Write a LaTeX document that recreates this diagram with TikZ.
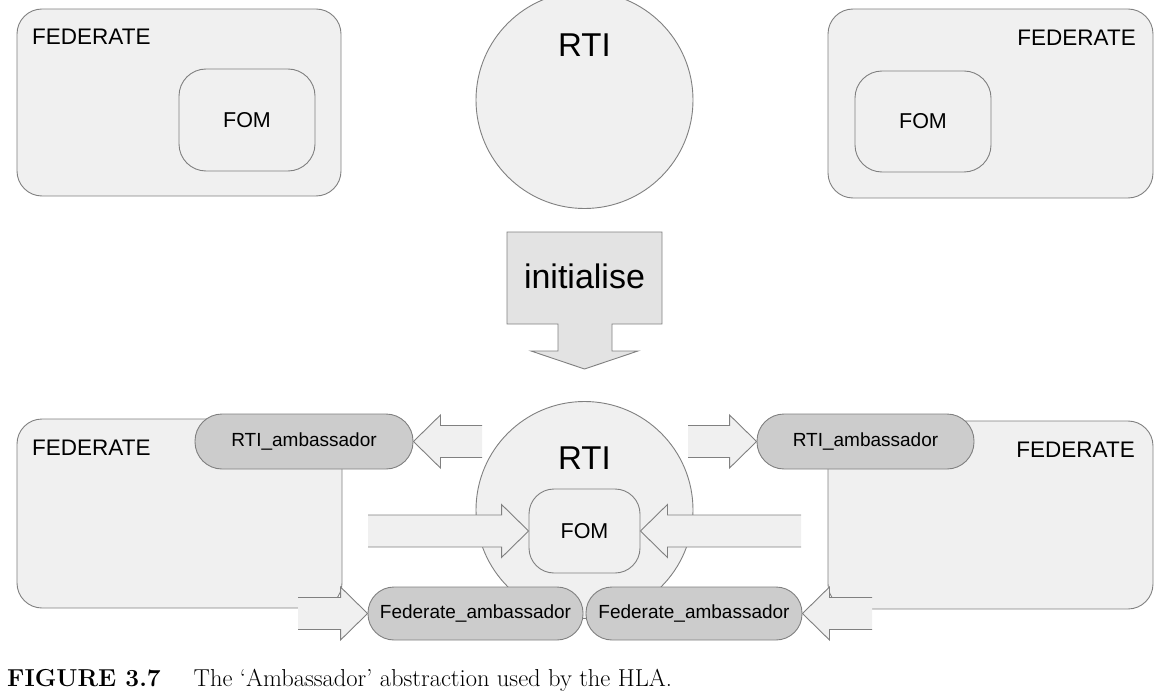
\documentclass[tikz,border=0pt]{standalone}
\usepackage{fontspec}
\setsansfont{Liberation Sans}
\usetikzlibrary{calc}
\definecolor{boxfill}{HTML}{F0F0F0}
\definecolor{pillfill}{HTML}{CCCCCC}
\definecolor{initfill}{HTML}{E3E3E3}
\definecolor{edgegray}{HTML}{808080}
\tikzset{
  edgeline/.style={draw=edgegray, line width=0.9bp},
  fedbox/.style={edgeline, fill=boxfill, rounded corners=25bp, inner sep=0pt},
  fombox/.style={edgeline, fill=boxfill, rounded corners=27bp, inner sep=0pt,
    font=\fontsize{21.5bp}{26bp}\selectfont\sffamily},
  rticircle/.style={edgeline, fill=boxfill, circle, inner sep=0pt, minimum size=217bp},
  pill/.style={edgeline, fill=pillfill, inner sep=0pt,
    font=\fontsize{19bp}{23bp}\selectfont\sffamily},
  fedtext/.style={font=\fontsize{22.5bp}{27bp}\selectfont\sffamily, inner sep=0pt},
  rtitext/.style={font=\fontsize{33bp}{40bp}\selectfont\sffamily, inner sep=0pt},
  blockarrow/.style={edgeline, fill=boxfill, line join=miter},
  initarrow/.style={edgeline, fill=initfill, line join=miter},
}
% block arrow from tail #1 to tip #2 (horizontal), open (unstroked) at the tail
\newcommand{\blockarrow}[2]{%
  \filldraw[blockarrow] let \p1=(#1), \p2=(#2), \n1={sign(\x1-\x2)} in
    (\x1,{\y2+16bp}) -- ({\x2+\n1*27bp},{\y2+16bp}) -- ({\x2+\n1*27bp},{\y2+26.5bp})
    -- (\x2,\y2) -- ({\x2+\n1*27bp},{\y2-26.5bp}) -- ({\x2+\n1*27bp},{\y2-16bp})
    -- (\x1,{\y2-16bp});
}
\begin{document}
\begin{tikzpicture}[x=1bp,y=-1bp]
\useasboundingbox (0,0) rectangle (1162,699);

% ---------- top row ----------
\node[fedbox, minimum width=324bp, minimum height=187bp] (fedA) at (179,102.5) {};
\node[fedtext, anchor=base west] (fedAt) at (32,45) {FEDERATE};
\node[fombox, minimum width=136bp, minimum height=102bp] (fomA) at (247,120) {FOM};

\node[fedbox, minimum width=325bp, minimum height=189bp] (fedB) at (990.5,103.5) {};
\node[fedtext, anchor=base east] (fedBt) at (1136,46) {FEDERATE};
\node[fombox, minimum width=136bp, minimum height=101bp] (fomB) at (923,121.5) {FOM};

\node[rticircle] (rtiA) at (584.5,100) {};
\node[rtitext, anchor=base] (rtiAt) at (584.5,57) {RTI};

% ---------- initialise arrow ----------
\filldraw[initarrow] (507,232) -- (662,232) -- (662,324) -- (612,324) -- (612,351)
  -- (638,351) -- (584.5,369) -- (531,351) -- (558,351) -- (558,324) -- (507,324) -- cycle;
\node[font=\fontsize{34bp}{40bp}\selectfont\sffamily, inner sep=0pt, anchor=base] (init) at (584.5,288) {initialise};

% ---------- bottom row ----------
\node[fedbox, minimum width=325bp, minimum height=189bp] (fedC) at (179.5,513.5) {};
\node[fedtext, anchor=base west] (fedCt) at (32,455) {FEDERATE};
\node[fedbox, minimum width=325bp, minimum height=188bp] (fedD) at (990.5,515) {};
\node[fedtext, anchor=base east] (fedDt) at (1135,457) {FEDERATE};

\node[rticircle] (rtiB) at (584.5,510) {};
\node[rtitext, anchor=base] (rtiBt) at (584.5,469) {RTI};
\node[fombox, rounded corners=25bp, minimum width=111bp, minimum height=84bp] (fomC) at (584.5,531) {FOM};

\node[pill, rounded corners=27bp, minimum width=218bp, minimum height=55bp] (ambL) at (304,441.5) {RTI\_ambassador};
\node[pill, rounded corners=27bp, minimum width=217bp, minimum height=55bp] (ambR) at (865.5,441.5) {RTI\_ambassador};
\node[pill, rounded corners=26bp, minimum width=215bp, minimum height=53bp] (famL) at (475.5,613.5) {Federate\_ambassador};
\node[pill, rounded corners=26bp, minimum width=216bp, minimum height=53bp] (famR) at (694,613.5) {Federate\_ambassador};

\coordinate (t1) at (482,441.5);
\coordinate (t2) at (688,441.5);
\coordinate (t3) at (368,531);
\coordinate (t4) at (801,531);
\coordinate (t5) at (298,613.5);
\coordinate (t6) at (872,613.5);

\blockarrow{t1}{ambL.east}
\blockarrow{t2}{ambR.west}
\blockarrow{t3}{fomC.west}
\blockarrow{t4}{fomC.east}
\blockarrow{t5}{famL.west}
\blockarrow{t6}{famR.east}

% ---------- caption ----------
\node[anchor=base west, inner sep=0pt, font=\fontsize{24.5bp}{29bp}\selectfont] (cap) at (7,686)
  {\textbf{FIGURE 3.7}\hspace{33bp}The ‘Ambassador’ abstraction used by the HLA.};
\end{tikzpicture}
\end{document}
